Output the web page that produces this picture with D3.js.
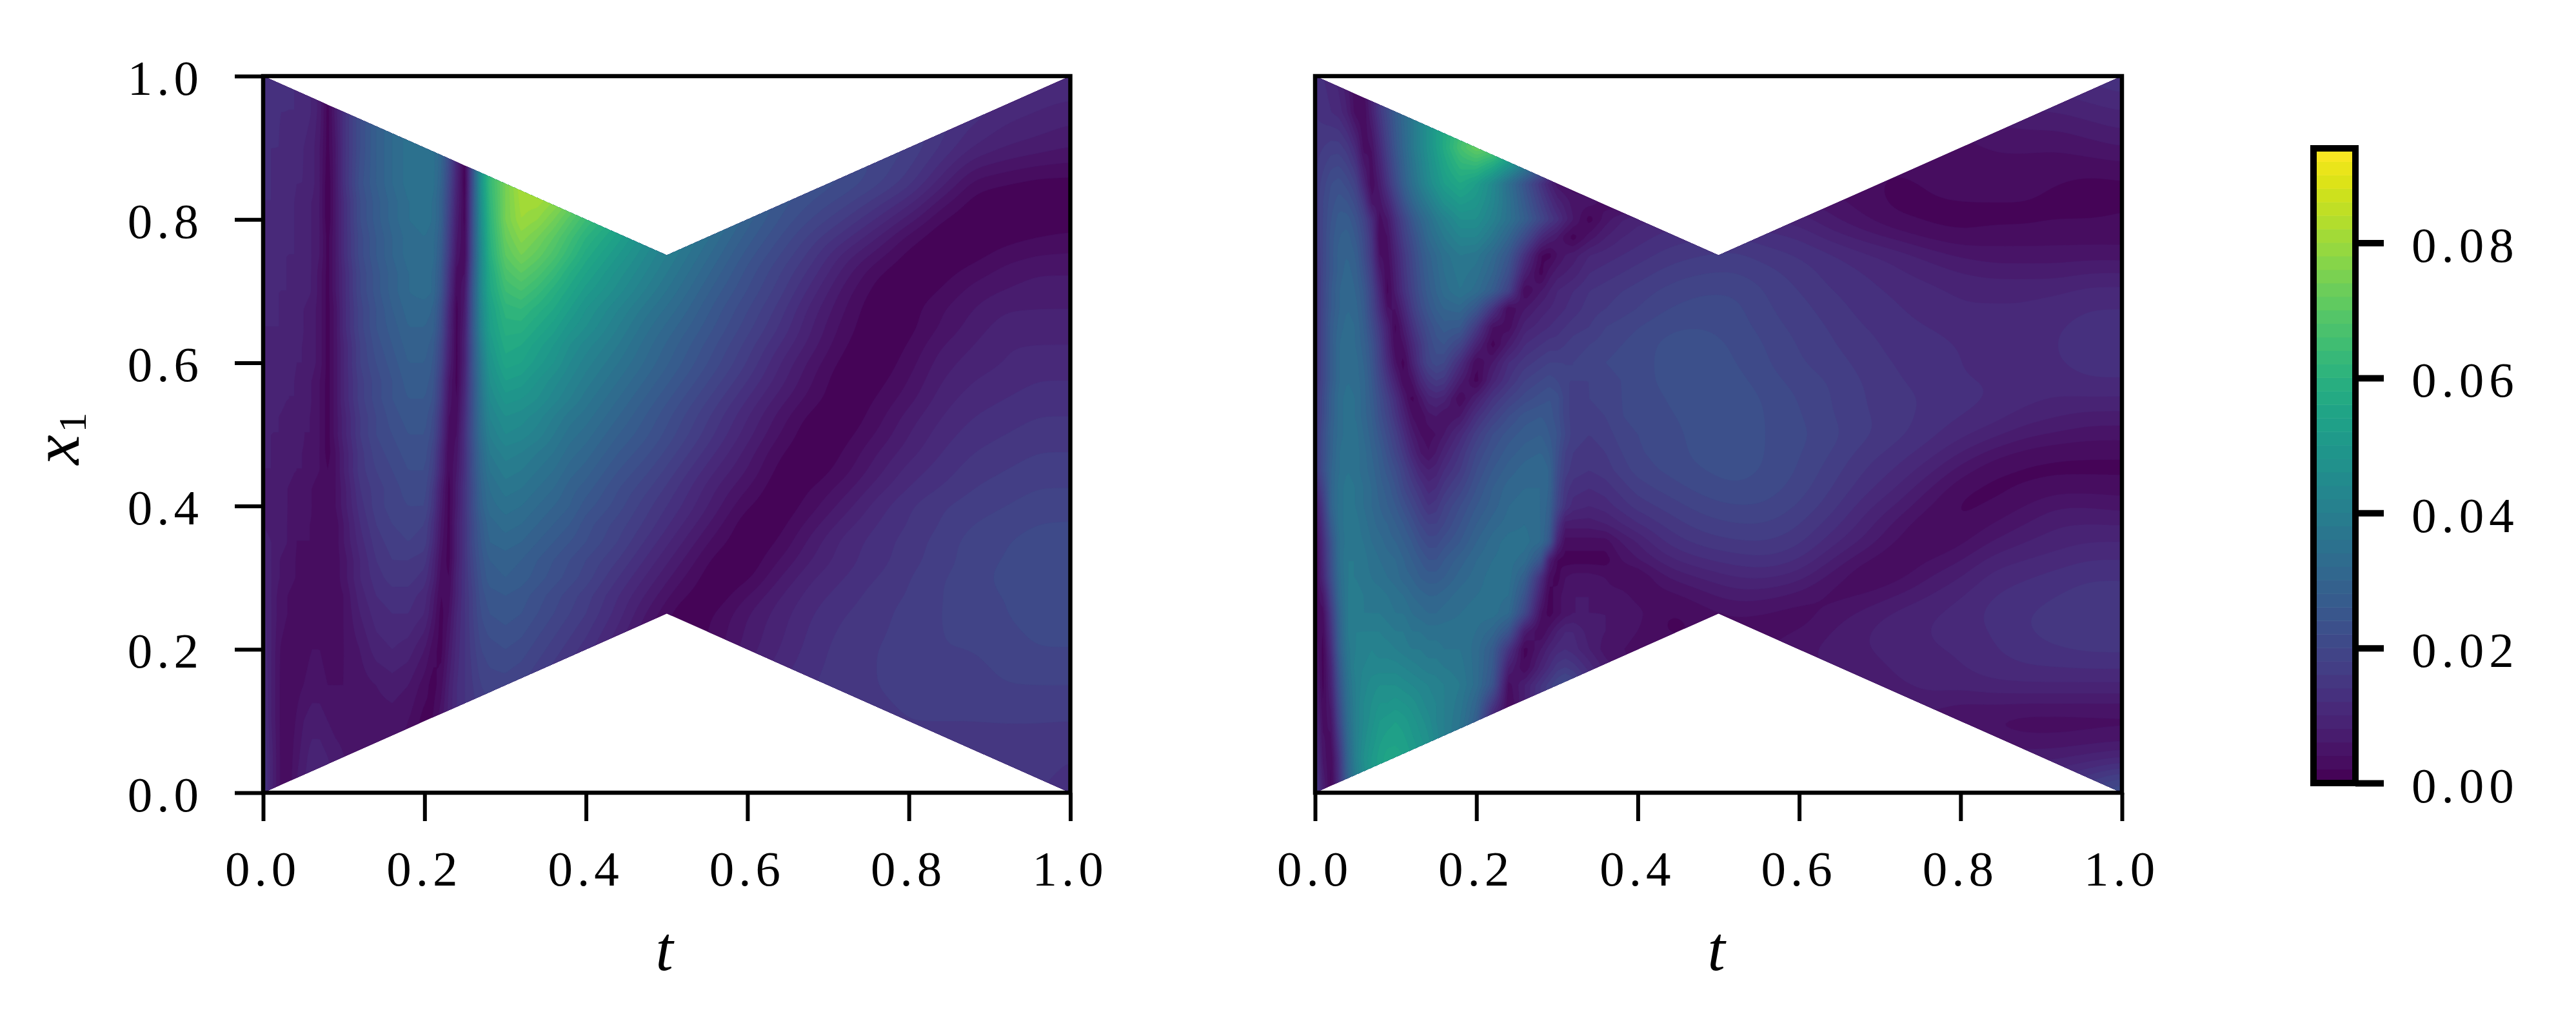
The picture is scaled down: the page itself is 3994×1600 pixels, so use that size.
<!DOCTYPE html>
<html><head><meta charset="utf-8">
<script src="https://cdn.jsdelivr.net/npm/d3@7"></script>
<style>html,body{margin:0;padding:0;background:#fff}svg{display:block}text{font-family:"Liberation Serif",serif;fill:#000}</style>
</head><body><svg id="c" width="3994" height="1600"></svg>
<script>
// Values are thousandths of the colour-bar unit.
const tickValues=[0,0.2,0.4,0.6,0.8,1.0];
const cbarTicks=[0,20,40,60,80];
const cbarMax=94, bandCount=47;
const maskT=[0,0.5,1,1,0.5,0];
const maskX=[1,0.75,1,0,0.25,0];
const leftX=[1,.95,.9,.85,.825,.8,.775,.75,.725,.7,.675,.65,.625,.6,.575,.55,.525,.5,.475,.45,.425,.4,.375,.35,.325,.3,.275,.25,.2,.15,.1,.05,0];
const leftT=[0,.01,.02,.03,.04,.05,.06,.07,.08,.09,.10, .12,.14,.16,.18,.20, .21,.22,.23,.24,.25,.26,.27,.28, .30,.32,.34,.36,.38,.40, .44,.48,.52,.56,.60,.64,.68,.72,.76,.80,.84,.88,.92,.96,1];
const leftValues=[
13,13,13,12,12,11,10,7,2,7,13, 22,28,32,35,36, 35,31,22,10,1,24,48,62, 74,82,84,84,82,78, 70,60,50,40,30,20,14,16,18,18,17,15,13,12,12,
13,13,12,12,12,11,10,7,1,7,13, 22,28,32,35,36, 35,31,22,10,1,24,48,62, 74,82,84,84,82,78, 70,60,50,40,30,22,20,20,18,17,15,13,11,10,9,
12,12,12,11,11,10,9,6,1,6,13, 22,28,32,35,36, 35,31,22,10,1,24,48,62, 74,82,84,84,82,76, 68,58,49,40,32,25,22,21,20,18,14,10,8,7,6,
12,12,11,11,10,10,9,6,0,6,13, 23,28,32,35,36, 35,30,20,9,0,24,48,62, 74,82,84,82,78,72, 63,54,46,38,31,26,24,22,19,15,9,3,2,1,1,
12,12,11,10,10,9,8,6,0,6,12, 22,27,31,34,35, 34,29,19,8,1,24,47,61, 74,81,81,78,74,68, 60,51,43,36,30,25,22,19,15,11,5,1,0,0,0,
11,11,11,10,10,9,8,6,0,6,12, 22,27,31,34,35, 34,29,18,7,1,24,46,60, 74,80,78,74,69,64, 56,48,41,35,29,24,20,16,12,7,2,0,0,0,0,
11,11,10,10,10,9,8,6,1,6,12, 21,26,30,33,34, 33,28,17,6,2,24,45,59, 72,77,74,70,65,60, 53,45,39,33,27,22,17,13,8,3,0,0,1,2,3,
11,11,10,10,10,9,8,6,1,6,12, 21,26,30,33,34, 33,27,16,5,2,24,44,58, 70,74,71,67,62,57, 50,43,37,31,25,20,15,9,5,1,0,1,3,4,4,
10,10,10,10,9,9,8,5,1,6,11, 20,25,29,32,33, 32,26,14,3,4,25,44,56, 67,70,67,63,58,54, 47,41,35,29,23,18,13,7,2,0,1,3,5,6,6,
10,10,10,10,9,9,8,5,1,6,11, 20,25,29,32,33, 32,25,13,2,6,26,44,55, 64,66,63,59,55,51, 45,39,33,27,22,17,11,5,1,0,2,5,6,7,7,
10,10,10,9,9,8,7,5,1,5,11, 19,24,28,31,31, 30,23,11,1,7,26,43,53, 61,62,59,56,52,48, 42,36,31,25,20,15,9,4,0,1,4,6,8,8,8,
10,10,10,9,9,8,7,5,1,5,11, 19,24,27,30,30, 29,22,10,1,8,26,42,52, 59,59,56,53,49,46, 40,34,29,24,19,14,8,3,0,1,4,7,9,9,9,
9,9,9,9,8,8,7,5,1,5,10, 18,23,26,29,29, 27,20,9,1,9,25,40,50, 57,56,53,50,46,43, 38,32,27,22,17,12,7,2,0,2,6,8,10,10,10,
9,9,9,9,8,8,7,5,1,5,10, 18,22,25,28,28, 26,19,8,1,9,25,38,48, 55,54,51,48,44,41, 36,31,26,21,16,10,5,1,0,3,7,9,10,11,11,
9,9,9,8,8,7,6,4,1,5,10, 17,21,24,27,27, 25,17,6,1,10,24,37,46, 52,51,48,45,42,39, 34,29,24,19,14,9,4,0,1,4,8,10,11,12,12,
9,9,9,8,8,7,6,4,1,5,10, 17,21,24,26,26, 24,16,5,2,11,24,36,44, 49,48,46,43,40,37, 32,27,22,17,12,7,3,0,2,5,9,11,12,13,13,
8,8,8,7,7,6,6,4,1,5,9, 16,20,23,25,25, 22,14,4,3,12,24,35,42, 46,45,43,40,37,35, 30,25,20,15,10,5,1,0,3,7,10,12,13,14,14,
8,8,8,7,7,6,6,4,1,5,9, 16,20,22,24,24, 21,13,3,4,13,24,34,40, 44,43,41,38,35,33, 28,24,19,14,9,4,0,1,4,8,11,13,14,15,15,
8,8,7,7,6,6,5,4,1,4,8, 15,19,21,23,23, 19,11,2,5,13,23,32,38, 41,40,38,36,33,31, 26,22,17,12,7,2,0,2,6,9,12,14,15,16,16,
8,8,7,7,6,6,5,4,2,4,8, 15,18,20,22,22, 18,10,2,6,13,23,31,36, 39,38,36,34,31,29, 24,20,15,10,6,1,0,3,7,11,13,15,16,17,17,
8,7,7,6,5,5,4,3,2,4,7, 14,17,19,21,21, 16,8,1,7,14,22,30,34, 37,36,34,32,29,27, 22,18,13,8,4,0,2,5,9,12,14,16,17,18,18,
8,7,7,6,5,5,4,3,2,4,7, 13,17,19,20,20, 15,7,1,7,14,22,29,33, 35,34,32,30,28,25, 21,16,12,7,2,0,3,7,11,14,16,17,18,19,19,
8,7,7,6,4,4,4,3,3,3,6, 12,16,18,19,18, 13,6,1,8,14,21,27,31, 33,32,30,28,26,23, 19,15,10,5,0,1,5,9,12,14,16,18,19,20,20,
9,8,7,6,4,4,4,3,3,3,6, 11,15,17,18,17, 12,5,1,8,14,21,26,30, 31,30,28,26,24,22, 18,13,8,3,0,2,7,11,13,15,17,19,20,21,22,
9,8,6,5,4,3,3,3,3,3,5, 10,14,16,16,15, 10,4,1,8,14,20,25,28, 29,28,26,24,22,20, 16,11,6,1,0,4,8,11,13,15,17,19,20,21,22,
10,8,6,5,4,3,3,3,3,3,5, 10,13,15,15,13, 9,3,2,9,14,19,24,27, 28,27,25,23,21,19, 14,9,4,0,1,6,10,12,14,16,18,19,21,22,22,
10,8,5,4,3,3,3,3,3,3,4, 9,12,13,13,11, 7,2,3,9,14,18,23,25, 26,25,23,21,19,17, 12,7,2,0,4,8,11,13,15,16,18,19,20,21,22,
11,8,5,4,3,3,3,3,3,3,4, 8,11,12,12,10, 6,1,4,10,14,18,22,24, 25,24,22,20,18,16, 11,5,0,2,6,9,12,14,15,17,18,19,20,21,21,
12,8,4,3,3,3,4,4,3,3,4, 6,9,10,9,6, 3,1,6,11,14,17,20,21, 22,21,19,17,15,13, 8,2,0,3,7,10,13,15,16,17,18,18,19,20,20,
13,8,4,2,3,4,5,5,4,4,4, 5,6,7,6,3, 1,3,8,12,14,16,18,19, 19,18,16,14,12,10, 5,1,2,6,9,12,14,15,16,17,17,17,18,18,18,
14,8,4,2,4,6,7,7,6,5,5, 5,5,5,4,1, 2,5,9,12,14,15,16,17, 17,16,14,12,10,8, 4,1,4,8,11,13,14,15,15,16,16,16,16,16,16,
15,9,4,2,5,7,9,9,8,7,6, 6,5,5,3,1, 3,6,9,12,14,15,15,16, 15,14,12,10,8,6, 3,2,5,8,11,13,14,14,14,15,15,15,15,15,14,
16,9,4,2,6,8,10,10,9,8,7, 6,5,5,3,1, 3,6,9,12,14,15,15,16, 15,14,12,10,8,6, 3,2,5,8,11,13,14,14,14,15,15,15,14,14,13
];
const rightX=[1,.95,.9,.85,.825,.8,.775,.75,.725,.7,.675,.65,.625,.6,.575,.55,.525,.5,.475,.45,.425,.4,.375,.35,.325,.3,.275,.25,.225,.2,.175,.15,.125,.1,.05,0];
const rightT=[0,.01,.02,.03,.04,.05,.06,.07,.08,.09,.10,.11,.12,.13,.14,.15,.16, .18,.20,.22,.24,.26,.28, .29,.30,.31,.32, .34,.36,.38,.40, .44,.48,.52,.56,.60,.64,.68,.72,.76,.80,.84,.88,.92,.96,1];
const rightValues=[
13,12,11,9,6,2,4,10,16,22,28,33,38,43,48,53,58, 64,68,70,70,65,55, 40,30,20,10, 4,1,5,8, 12,14,14,12,8,4,2,3,6,9,10,11,12,13,14,
14,13,12,11,8,3,2,8,15,21,27,32,37,42,47,52,56, 62,66,66,65,58,50, 38,28,18,8, 2,1,6,10, 14,15,14,12,8,4,2,2,4,6,7,8,8,9,10,
15,16,17,17,15,11,3,4,11,18,25,31,37,42,47,52,57, 66,72,70,62,52,40, 30,22,14,6, 1,3,6,10, 14,14,13,11,8,5,3,2,3,3,4,4,4,5,6,
16,19,22,23,21,18,10,2,7,14,21,28,34,39,44,48,52, 56,52,44,34,24,14, 9,5,4,3, 2,2,2,2, 3,4,5,5,4,3,2,2,2,3,3,3,2,1,1,
16,20,23,25,24,21,15,5,5,10,17,24,30,35,39,43,47, 51,49,43,35,26,17, 13,9,7,5, 5,3,1,4, 7,8,8,8,6,5,3,1,2,2,2,2,1,1,2,
15,20,24,27,27,24,19,12,3,6,13,19,25,30,34,38,41, 46,46,41,35,28,20, 16,13,9,6, 1,5,8,10, 11,11,11,10,9,6,4,2,1,1,1,1,2,2,2,
15,20,25,28,29,26,21,14,2,4,11,17,22,27,32,35,38, 42,42,37,30,21,11, 8,6,3,1, 5,8,10,11, 13,14,14,13,12,9,7,5,3,2,3,3,3,3,3,
14,20,25,29,30,28,22,15,4,3,9,15,20,25,29,32,35, 38,37,32,25,13,2, 1,4,6,7, 10,11,12,13, 15,16,17,15,14,13,11,10,8,6,5,5,5,5,5,
13,20,25,29,31,29,24,17,7,2,8,14,19,24,28,31,34, 37,35,30,22,8,1, 5,7,8,9, 12,13,14,15, 17,18,18,17,15,13,12,10,9,8,7,7,7,8,8,
13,20,26,30,32,30,26,19,10,1,7,13,18,23,27,30,33, 36,33,27,18,2,6, 8,10,11,12, 14,15,16,17, 19,20,20,18,16,14,13,12,11,10,10,10,10,11,11,
13,20,26,30,32,31,27,20,12,4,4,10,16,21,25,28,30, 31,25,14,2,6,9, 10,11,12,13, 15,16,17,18, 20,21,21,18,17,15,13,12,11,10,10,10,11,12,12,
13,20,27,31,33,32,28,22,15,8,1,7,13,18,22,25,27, 26,16,4,3,9,11, 12,13,14,15, 16,18,19,20, 22,22,21,19,17,16,14,13,12,11,11,11,12,13,13,
13,20,27,32,34,32,29,24,17,9,2,4,10,15,20,23,24, 19,9,1,7,12,14, 15,15,16,17, 18,19,20,21, 23,23,22,20,18,16,15,13,13,12,11,11,12,13,14,
13,20,27,32,34,33,30,25,18,11,4,1,8,14,19,21,20, 12,2,6,12,15,17, 18,18,18,18, 19,20,21,21, 23,23,22,20,18,17,15,14,13,12,11,11,12,13,13,
13,20,27,32,34,33,31,26,20,14,8,2,4,10,14,16,15, 7,1,9,14,18,20, 21,20,18,18, 18,19,20,21, 23,23,23,21,19,18,16,14,13,12,12,11,11,12,12,
14,21,28,33,35,34,31,27,22,17,12,6,1,5,9,10,9, 2,8,14,18,21,23, 24,23,19,17, 18,19,20,21, 22,23,23,22,20,18,16,15,14,13,12,11,10,10,10,
14,21,28,33,35,34,31,28,23,19,14,9,4,2,5,6,4, 6,13,18,22,25,26, 25,23,19,17, 17,18,20,21, 22,23,23,22,20,18,16,15,13,12,11,9,8,7,7,
15,22,29,33,35,35,32,29,25,21,17,12,7,4,3,4,6, 11,17,22,25,27,28, 26,24,20,17, 16,17,19,20, 21,23,23,22,21,19,17,15,13,11,9,7,6,5,5,
15,22,29,34,36,35,33,30,27,23,19,15,10,6,4,6,9, 14,20,24,27,29,30, 28,23,18,16, 15,16,18,20, 21,23,23,22,20,18,15,13,11,8,5,3,2,2,2,
14,22,30,34,36,35,33,31,28,25,22,18,14,10,8,9,12, 16,22,26,29,31,32, 30,22,17,15, 14,15,17,19, 21,22,23,22,20,17,14,12,9,5,2,1,1,1,1,
10,19,30,35,37,36,34,32,29,27,24,20,17,14,11,12,15, 19,24,28,31,32,32, 30,21,15,13, 12,13,15,17, 19,21,22,21,19,16,13,10,6,2,1,2,3,3,3,
6,16,30,35,37,36,34,32,30,28,26,23,20,17,14,15,18, 22,26,29,32,33,32, 29,20,14,11, 10,11,13,15, 17,19,20,20,18,15,11,8,4,1,2,4,6,6,5,
4,14,27,35,37,37,35,33,31,30,28,26,23,20,18,18,20, 24,28,31,33,34,32, 28,15,7,7, 7,8,10,12, 15,17,18,18,16,13,9,5,2,2,4,6,8,8,8,
2,12,24,34,37,37,36,34,33,31,30,28,26,23,21,21,23, 26,30,33,35,35,32, 26,10,3,3, 3,3,6,8, 13,15,16,16,15,11,8,4,1,3,6,8,9,10,10,
1,11,23,34,38,38,37,35,34,33,32,30,28,26,24,24,26, 29,32,34,35,33,24, 8,2,1,1, 1,1,4,6, 10,12,13,14,12,8,4,1,4,6,9,10,11,12,12,
1,10,22,33,38,38,37,36,35,34,33,31,30,28,27,27,28, 31,33,35,35,28,12, 3,1,4,5, 5,4,2,1, 6,8,10,10,9,5,1,3,6,8,11,12,13,14,14,
2,6,19,32,38,39,38,37,37,36,35,34,32,31,30,30,31, 33,34,35,34,24,8, 1,3,5,6, 6,5,5,3, 3,5,7,7,5,2,4,6,8,10,12,13,14,15,15,
3,3,16,30,38,39,38,38,38,37,36,36,34,33,32,32,33, 34,35,35,32,20,4, 1,3,5,6, 6,6,6,5, 1,3,4,3,2,5,7,9,10,11,13,14,15,16,16,
4,2,14,29,38,40,40,40,40,39,38,38,36,36,35,35,35, 35,34,31,24,7,2, 5,8,10,10, 7,6,5,4, 1,2,3,3,4,6,8,9,10,11,12,14,15,15,15,
6,1,12,28,37,40,41,42,41,41,40,39,38,38,37,37,36, 36,33,27,14,1,6, 9,11,12,11, 8,5,4,3, 3,3,3,4,6,7,8,9,10,10,12,13,14,15,15,
7,1,10,26,36,41,42,43,43,43,43,42,41,40,39,39,38, 37,33,26,8,2,9, 12,15,16,15, 11,7,5,3, 3,3,3,4,5,6,7,8,9,10,11,12,12,12,12,
9,1,9,24,35,40,43,45,46,46,46,45,44,43,42,41,40, 38,33,24,3,8,14, 17,20,22,20, 14,10,6,4, 3,3,3,4,5,6,7,8,9,9,10,10,10,10,10,
10,2,7,22,34,40,44,46,48,48,49,48,47,45,43,42,40, 37,30,16,2,8,15, 18,20,22,20, 14,10,6,4, 3,3,3,3,4,5,6,6,7,6,6,6,6,6,6,
12,3,5,20,33,40,44,47,50,51,52,51,49,47,45,42,40, 36,28,8,2,10,16, 18,20,22,20, 14,10,6,4, 3,3,3,3,3,4,5,5,5,3,3,2,2,2,2,
15,5,2,14,30,40,46,50,53,55,55,54,52,50,48,44,40, 34,24,6,2,10,16, 18,20,22,20, 14,10,6,4, 3,3,3,3,3,4,5,5,5,6,7,7,7,8,9,
18,8,1,12,28,38,44,50,53,55,55,54,52,50,48,44,40, 34,24,6,2,10,16, 18,20,22,20, 14,10,6,4, 3,3,3,3,3,4,5,5,5,8,10,12,16,20,25
];

const svg=d3.select("#c");
const panels=[
 {id:"L",x0:408,x1:1659.5,T:leftT,X:leftX,V:leftValues,yAxis:true,tx:1030,soft:[.40,.48],r:3},
 {id:"R",x0:2039,x1:3290,T:rightT,X:rightX,V:rightValues,yAxis:false,tx:2661,soft:[.36,.44],r:4}
];
const yTop=118,yBot=1229,fs=77,ls=7,cell=4;
const th=d3.range(bandCount).map(i=>i*cbarMax/bandCount);
const col=i=>d3.interpolateViridis((i+0.5)/bandCount);
const sy=d3.scaleLinear([0,1],[yBot,yTop]);
const defs=svg.append("defs");

// Contour field on a pixel raster: sampled bilinearly from the read values, softened on the broad right wing.
function raster(p){
  const nt=p.T.length,nr=p.X.length;
  if(p.V.length!==nt*nr) throw new Error("size "+p.id+" "+p.V.length+" vs "+nt*nr);
  const W=Math.ceil((p.x1-p.x0)/cell)+1,H=Math.ceil((yBot-yTop)/cell)+1;
  const ti=d3.scaleLinear().domain(p.T).range(p.T.map((_,i)=>i)).clamp(true);
  const xi=d3.scaleLinear().domain(p.X).range(p.X.map((_,i)=>i)).clamp(true);
  const data=new Float64Array(W*H);
  for(let j=0;j<H;j++){
    const fy=xi(1-j*cell/(yBot-yTop)),j0=Math.min(Math.floor(fy),nr-2),b=fy-j0;
    for(let i=0;i<W;i++){
      const fx=ti(i*cell/(p.x1-p.x0)),i0=Math.min(Math.floor(fx),nt-2),a=fx-i0;
      const v=k=>p.V[k];
      data[j*W+i]=(1-b)*((1-a)*v(j0*nt+i0)+a*v(j0*nt+i0+1))+b*((1-a)*v((j0+1)*nt+i0)+a*v((j0+1)*nt+i0+1));
    }
  }
  const soft=Float64Array.from(data);
  d3.blur2({data:soft,width:W,height:H},p.r);
  const w=d3.scaleLinear(p.soft,[0,1]).clamp(true);
  for(let j=0;j<H;j++)for(let i=0;i<W;i++){
    const a=w(i*cell/(p.x1-p.x0));
    data[j*W+i]=(1-a)*data[j*W+i]+a*soft[j*W+i];
  }
  return {data,W,H};
}

panels.forEach(p=>{
  const sx=d3.scaleLinear([0,1],[p.x0,p.x1]);
  const {data,W,H}=raster(p);
  const path=d3.geoPath(d3.geoTransform({point(x,y){this.stream.point(p.x0+(x-.5)*cell,yTop+(y-.5)*cell);}}));
  const cs=d3.contours().size([W,H]).smooth(true).thresholds(th)(Array.from(data));
  defs.append("clipPath").attr("id","clip"+p.id).append("path")
    .attr("d",d3.line().x(d=>sx(d[0])).y(d=>sy(d[1]))(maskT.map((t,i)=>[t,maskX[i]]))+"Z");
  const g=svg.append("g").attr("clip-path",`url(#clip${p.id})`);
  g.selectAll("path").data(cs).join("path").attr("d",path)
    .attr("fill",(d,i)=>col(i)).attr("stroke",(d,i)=>col(i)).attr("stroke-width",0.6);

  const ax=svg.append("g").attr("transform",`translate(0,${yBot})`)
    .call(d3.axisBottom(sx).tickValues(tickValues).tickFormat(d3.format(".1f")).tickSize(44).tickPadding(0));
  ax.select(".domain").remove();
  ax.selectAll("line").attr("stroke","#000").attr("stroke-width",6);
  ax.selectAll("text").attr("y",144).attr("dy",0).attr("x",-1).attr("font-size",fs).attr("letter-spacing",ls).attr("text-anchor","middle");

  if(p.yAxis){
    const ay=svg.append("g").attr("transform",`translate(${p.x0},0)`)
      .call(d3.axisLeft(sy).tickValues(tickValues).tickFormat(d3.format(".1f")).tickSize(44).tickPadding(0));
    ay.select(".domain").remove();
    ay.selectAll("line").attr("stroke","#000").attr("stroke-width",6);
    ay.selectAll("text").attr("x",-93).attr("dy",0).attr("y",28).attr("font-size",fs).attr("letter-spacing",ls).attr("text-anchor","end");
  }
  svg.append("rect").attr("x",p.x0).attr("y",yTop).attr("width",p.x1-p.x0).attr("height",yBot-yTop)
    .attr("fill","none").attr("stroke","#000").attr("stroke-width",6.5);
  svg.append("text").attr("x",p.tx).attr("y",1504).attr("text-anchor","middle")
    .attr("font-size",98).attr("font-style","italic").text("t");
});

const yl=svg.append("text").attr("transform","translate(122,680) rotate(-90)").attr("text-anchor","middle")
  .attr("font-size",104).attr("font-style","italic");
yl.append("tspan").text("x");
yl.append("tspan").attr("font-size",62).attr("font-style","normal").attr("dy",11).attr("dx",4).text("1");

const cy=d3.scaleLinear([0,cbarMax],[1214,230]);
svg.append("g").selectAll("rect").data(th).join("rect")
  .attr("x",3587).attr("width",65)
  .attr("y",(d,i)=>cy(i+1<bandCount?th[i+1]:cbarMax)-0.5)
  .attr("height",(d,i)=>cy(d)-cy(i+1<bandCount?th[i+1]:cbarMax)+0.5)
  .attr("fill",(d,i)=>col(i));
svg.append("rect").attr("x",3587).attr("y",230).attr("width",65).attr("height",984)
  .attr("fill","none").attr("stroke","#000").attr("stroke-width",10);
const ac=svg.append("g").attr("transform","translate(3652,0)")
  .call(d3.axisRight(cy).tickValues(cbarTicks).tickFormat(d=>d3.format(".2f")(d/1000)).tickSize(44).tickPadding(0));
ac.select(".domain").remove();
ac.selectAll("line").attr("stroke","#000").attr("stroke-width",10);
ac.selectAll("text").attr("x",87).attr("dy",0).attr("y",29).attr("font-size",fs).attr("letter-spacing",ls+1).attr("text-anchor","start");
</script></body></html>
